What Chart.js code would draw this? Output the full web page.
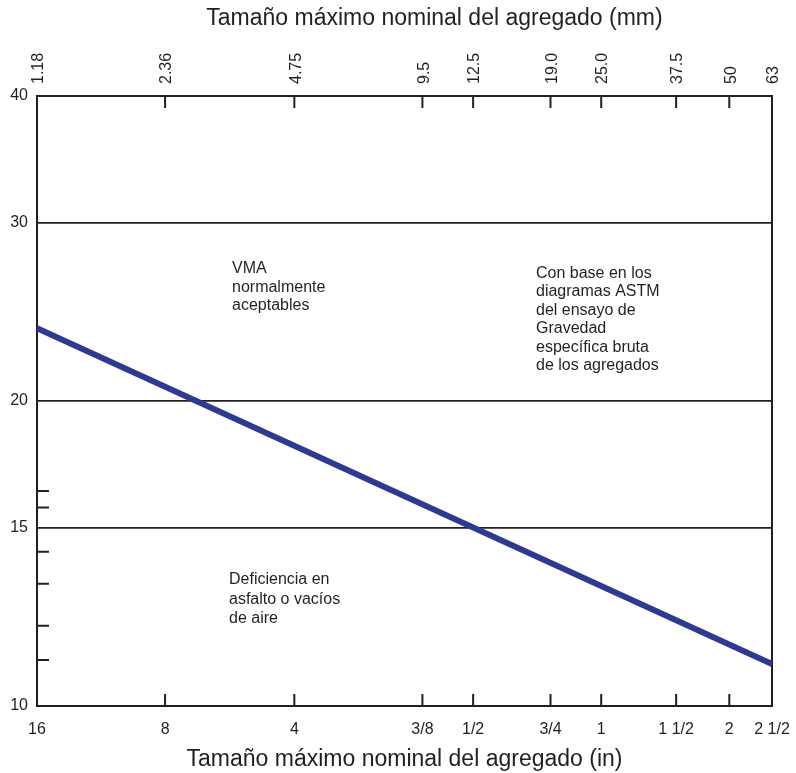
<!DOCTYPE html>
<html><head><meta charset="utf-8">
<script src="https://cdn.jsdelivr.net/npm/chart.js@4/dist/chart.umd.min.js"></script>
<style>html,body{margin:0;padding:0;background:#fff}#wrap{width:796px;height:773px}</style>
</head><body><div id="wrap"><canvas id="c" width="796" height="773"></canvas></div>
<script>
// ---- data ----
const sieveMm = [1.18, 2.36, 4.75, 9.5, 12.5, 19.0, 25.0, 37.5, 50, 63];
const mmLabels = ['1.18', '2.36', '4.75', '9.5', '12.5', '19.0', '25.0', '37.5', '50', '63'];
const inLabels = ['16', '8', '4', '3/8', '1/2', '3/4', '1', '1 1/2', '2', '2 1/2'];
const vmaTicks = [10, 15, 20, 30, 40];
const vmaMinorTicks = [16.3, 15.7, 14.2, 13.2, 12.0, 11.1];
const lineSizes = [1.18, 63];
const lineVma = [23.6, 11.0];
const topTitle = 'Tamaño máximo nominal del agregado (mm)';
const bottomTitle = 'Tamaño máximo nominal del agregado (in)';
const notes = [
  ['VMA', 'normalmente', 'aceptables'],
  ['Con base en los', 'diagramas ASTM', 'del ensayo de', 'Gravedad', 'específica bruta', 'de los agregados'],
  ['Deficiencia en', 'asfalto o vacíos', 'de aire']
];

// ---- styling ----
const ink = '#231F20';
const blue = '#2E3992';
const fam = '"Liberation Sans", Arial, Helvetica, sans-serif';
const fixedTicks = vals => s => { s.ticks = vals.map(v => ({ value: v })); };

const decor = {
  id: 'decor',
  afterDraw(chart) {
    const { ctx, chartArea: a, scales } = chart;
    const xs = scales.x, ys = scales.y;
    ctx.save();
    ctx.strokeStyle = ink;
    ctx.lineWidth = 2;
    ctx.beginPath();
    sieveMm.forEach(v => {
      const px = xs.getPixelForValue(v);
      ctx.moveTo(px, a.bottom); ctx.lineTo(px, a.bottom - 12);
      ctx.moveTo(px, a.top); ctx.lineTo(px, a.top + 12);
    });
    vmaMinorTicks.forEach(v => {
      const py = ys.getPixelForValue(v);
      ctx.moveTo(a.left, py); ctx.lineTo(a.left + 12, py);
    });
    ctx.stroke();

    // top axis title
    ctx.fillStyle = ink;
    ctx.font = '23px ' + fam;
    ctx.textAlign = 'center';
    ctx.textBaseline = 'middle';
    ctx.fillText(topTitle, (a.left + a.right) / 2 + 30, 19);

    // annotations
    ctx.font = '16px ' + fam;
    ctx.textAlign = 'left';
    ctx.textBaseline = 'alphabetic';
    const spots = [
      { dx: 195, y: 273, lh: 18.7 },
      { dx: 499, y: 278, lh: 18.4 },
      { dx: 192, y: 584, lh: 19.6 }
    ];
    notes.forEach((lines, i) => {
      lines.forEach((t, j) => ctx.fillText(t, a.left + spots[i].dx, spots[i].y + j * spots[i].lh));
    });
    ctx.restore();
  }
};

new Chart(document.getElementById('c'), {
  type: 'line',
  data: {
    datasets: [{
      data: lineSizes.map((x, i) => ({ x, y: lineVma[i] })),
      xAxisID: 'x', yAxisID: 'y',
      borderColor: blue, borderWidth: 6, pointRadius: 0, tension: 0, fill: false
    }]
  },
  options: {
    responsive: false,
    animation: false,
    devicePixelRatio: 1,
    layout: { padding: 0 },
    plugins: { legend: { display: false }, tooltip: { enabled: false } },
    scales: {
      x: {
        type: 'logarithmic', position: 'bottom', min: 1.18, max: 63,
        afterBuildTicks: fixedTicks(sieveMm),
        ticks: { autoSkip: false, maxRotation: 0, minRotation: 0, padding: 14, color: ink,
                 font: { family: fam, size: 16 }, callback: (v, i) => inLabels[i] },
        grid: { display: false, drawTicks: false },
        border: { display: true, color: ink, width: 2 },
        title: { display: true, text: bottomTitle, color: ink, font: { family: fam, size: 23 }, padding: { top: 0, bottom: 0 } },
        afterFit: s => { s.height = 67; s.paddingLeft = 0; s.paddingRight = 0; }
      },
      x2: {
        type: 'logarithmic', position: 'top', min: 1.18, max: 63,
        afterBuildTicks: fixedTicks(sieveMm),
        ticks: { autoSkip: false, maxRotation: 90, minRotation: 90, padding: 12, labelOffset: 21, color: ink,
                 font: { family: fam, size: 16 }, callback: (v, i) => mmLabels[i] },
        grid: { display: false, drawTicks: false },
        border: { display: true, color: ink, width: 2 },
        afterFit: s => { s.height = 96; s.paddingLeft = 0; s.paddingRight = 0; }
      },
      y: {
        type: 'logarithmic', position: 'left', min: 10, max: 40,
        afterBuildTicks: fixedTicks(vmaTicks),
        ticks: { autoSkip: false, padding: 9, color: ink, font: { family: fam, size: 16 }, callback: v => String(v) },
        grid: { color: ink, lineWidth: 1.8, drawTicks: false },
        border: { display: true, color: ink, width: 2 },
        afterFit: s => { s.width = 37; s.paddingTop = 0; s.paddingBottom = 0; }
      },
      yR: {
        type: 'logarithmic', position: 'right', min: 10, max: 40,
        ticks: { display: false },
        grid: { display: false, drawTicks: false },
        border: { display: true, color: ink, width: 2 },
        afterFit: s => { s.width = 24; s.paddingTop = 0; s.paddingBottom = 0; }
      }
    }
  },
  plugins: [decor]
});
</script>
</body></html>
